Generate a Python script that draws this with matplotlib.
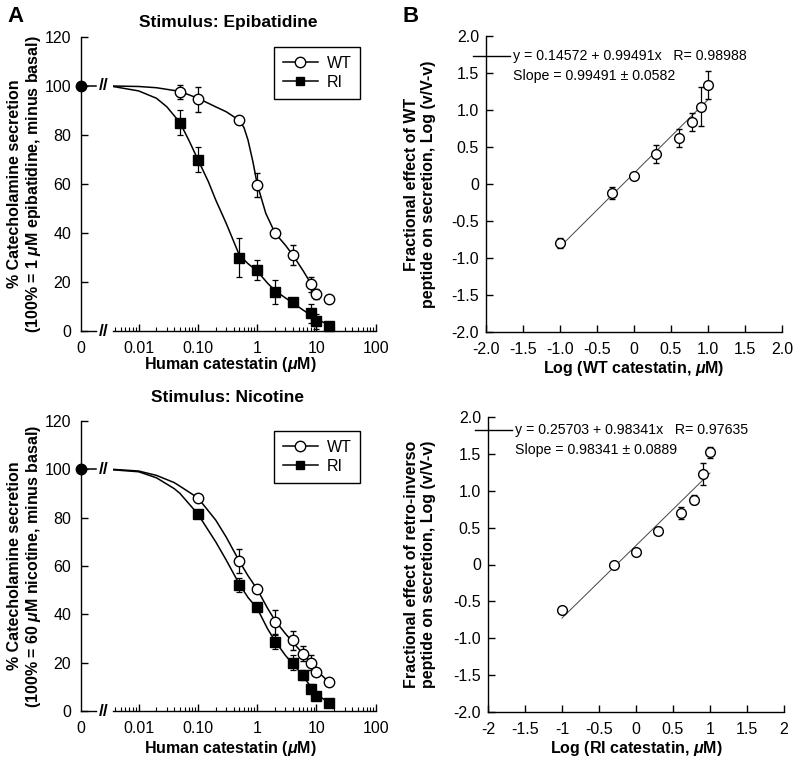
import matplotlib

matplotlib.use("Agg")

import matplotlib.pyplot as plt
import numpy as np
from matplotlib.lines import Line2D
from matplotlib.ticker import FixedLocator, FixedFormatter, LogLocator, NullFormatter

plt.rcParams.update({
    "font.family": ["Liberation Sans", "DejaVu Sans"],
    "font.size": 11,
    "mathtext.fontset": "custom",
    "mathtext.rm": "Liberation Sans:bold",
    "mathtext.it": "Liberation Sans:bold:italic",
    "mathtext.bf": "Liberation Sans:bold",
    "axes.linewidth": 1.0,
    "xtick.direction": "in",
    "ytick.direction": "in",
})

W, H = 800, 761

# ---- Panel A data (% catecholamine secretion vs catestatin, uM) ----
ZERO_DOSE_VALUE = 100

EPI_CONC = [0.05, 0.1, 0.5, 1, 2, 4, 8, 10, 16]
EPI_WT = [97.5, 94.5, 86, 59.5, 40, 31, 19, 15, 13]
EPI_WT_ERR = [3, 5, 0, 5, 0, 4, 3, 2, 0]
EPI_RI = [85, 70, 30, 25, 16, 12, 7.2, 4, 2.2]
EPI_RI_ERR = [5, 5, 8, 4, 5, 0, 4, 3, 0]

# fitted curves
EPI_WT_CURVE_X = [0.0037, 0.01, 0.02, 0.05, 0.1, 0.2, 0.3, 0.5, 0.6, 0.7, 0.85, 1, 1.4, 2, 3, 4, 6, 8, 9.5]
EPI_WT_CURVE_Y = [100, 99.8, 99.3, 97.8, 95, 91.5, 89.5, 86, 83, 78, 69, 60, 48, 40, 35, 31, 24.5, 19.5, 15.5]
EPI_RI_CURVE_X = [0.0037, 0.01, 0.02, 0.03, 0.05, 0.07, 0.1, 0.15, 0.2, 0.3, 0.5, 0.7, 1, 1.5, 2, 3, 4, 6, 8, 10, 16]
EPI_RI_CURVE_Y = [99.8, 98, 95, 91.5, 85, 78, 70, 61, 53.5, 44, 31, 27.5, 24.5, 19.5, 16.5, 13.5, 11.5, 8.5, 6.5, 5, 2.5]

NIC_CONC = [0.1, 0.5, 1, 2, 4, 6, 8, 10, 16]
NIC_WT = [88, 62, 50.4, 37, 29.2, 23.7, 20, 16.2, 12]
NIC_WT_ERR = [0, 5, 0, 5, 4, 3, 3, 0, 0]
NIC_RI = [81.5, 52.2, 42.9, 28.5, 20, 14.8, 9.3, 6.4, 3.4]
NIC_RI_ERR = [1.5, 3, 1, 3, 3, 2, 2, 1, 0]

NIC_WT_CURVE_X = [0.0037, 0.01, 0.02, 0.04, 0.05, 0.1, 0.2, 0.3, 0.5, 0.7, 1, 1.5, 2, 3, 4, 6, 8, 10, 16]
NIC_WT_CURVE_Y = [100, 99.3, 97.5, 94.5, 93, 88.2, 79, 72, 62, 56, 50.4, 42.5, 37.5, 32, 28.5, 23.5, 20, 17, 12]
NIC_RI_CURVE_X = [0.0037, 0.01, 0.02, 0.04, 0.05, 0.1, 0.2, 0.3, 0.5, 0.7, 1, 1.5, 2, 3, 4, 6, 8, 10, 16]
NIC_RI_CURVE_Y = [99.8, 99, 96.5, 92, 90, 81.5, 70, 62.5, 52.5, 47, 42.5, 34, 29, 23, 19.5, 14.5, 10, 7, 3.5]

# ---- Panel B data (Hill-type plots, log v/(V-v) vs log conc) ----
B_CONC = [0.1, 0.5, 1, 2, 4, 6, 8, 10]
B_WT = [-0.80, -0.126, 0.112, 0.405, 0.626, 0.833, 1.045, 1.338]
B_WT_ERR = [0.07, 0.08, 0.0, 0.12, 0.12, 0.12, 0.26, 0.19]
B_WT_FIT_X = [-1.0, 1.0]
B_WT_FIT_Y = [-0.849, 1.140]
B_WT_EQ = "y = 0.14572 + 0.99491x   R= 0.98988"
B_WT_SLOPE = "Slope = 0.99491 \u00b1 0.0582"

B_RI = [-0.62, -0.01, 0.164, 0.458, 0.698, 0.879, 1.227, 1.52]
B_RI_ERR = [0.03, 0.03, 0.03, 0.05, 0.08, 0.06, 0.15, 0.08]
B_RI_FIT_X = [-1.0, 1.0]
B_RI_FIT_Y = [-0.726, 1.240]
B_RI_EQ = "y = 0.25703 + 0.98341x   R= 0.97635"
B_RI_SLOPE = "Slope = 0.98341 \u00b1 0.0889"

A_YTICKS = [0, 20, 40, 60, 80, 100, 120]
A_XTICKS = [0.01, 0.1, 1, 10, 100]
A_XTICKLABELS = ["0.01", "0.10", "1", "10", "100"]
B_TICKS = [-2, -1.5, -1, -0.5, 0, 0.5, 1, 1.5, 2]
B_YTICKLABELS = ["-2.0", "-1.5", "-1.0", "-0.5", "0", "0.5", "1.0", "1.5", "2.0"]
B_XTICKLABELS_WT = B_YTICKLABELS
B_XTICKLABELS_RI = ["-2", "-1.5", "-1", "-0.5", "0", "0.5", "1", "1.5", "2"]


def px_axes(fig, left, top, right, bottom, **kw):
    return fig.add_axes([left / W, 1 - bottom / H, (right - left) / W, (bottom - top) / H], **kw)


def ftext(fig, x, y, s, **kw):
    return fig.text(x / W, 1 - y / H, s, **kw)


def dose_panel(fig, top, bottom, title, title_y, ylabel, xlabel_y, data, legend_top):
    conc, wt, wt_err, ri, ri_err, wt_cx, wt_cy, ri_cx, ri_cy = data

    ax0 = px_axes(fig, 81, top, 96, bottom)
    ax1 = px_axes(fig, 113, top, 375.7, bottom, sharey=ax0)

    for ax in (ax0, ax1):
        ax.spines["top"].set_visible(False)
        ax.spines["right"].set_visible(False)
        ax.set_facecolor("none")

    ax0.set_xlim(0, 1)
    ax0.set_ylim(0, 120)
    ax0.yaxis.set_major_locator(FixedLocator(A_YTICKS))
    ax0.set_xticks([0])
    ax0.set_xticklabels(["0"])
    ax0.tick_params(axis="x", length=0, pad=7, labelsize=11.5)
    ax0.tick_params(axis="y", length=5, width=1, pad=7, labelsize=11.5)
    ax0.plot([0, 1], [ZERO_DOSE_VALUE, ZERO_DOSE_VALUE], color="black", lw=1.1, clip_on=False)
    ax0.plot([0], [ZERO_DOSE_VALUE], "o", color="black", ms=7.5, clip_on=False, zorder=6)

    ax1.spines["left"].set_visible(False)
    ax1.set_xscale("log")
    ax1.set_xlim(0.0037, 100)
    ax1.xaxis.set_major_locator(FixedLocator(A_XTICKS))
    ax1.xaxis.set_major_formatter(FixedFormatter(A_XTICKLABELS))
    ax1.xaxis.set_minor_locator(LogLocator(base=10, subs=range(2, 10), numticks=20))
    ax1.xaxis.set_minor_formatter(NullFormatter())
    ax1.tick_params(axis="y", left=False, labelleft=False)
    ax1.tick_params(axis="x", which="major", length=5, width=1, pad=7, labelsize=11.5)
    ax1.tick_params(axis="x", which="minor", length=3, width=0.8)

    ax1.plot(wt_cx, wt_cy, color="black", lw=1.1, zorder=2)
    ax1.plot(ri_cx, ri_cy, color="black", lw=1.1, zorder=2)
    ax1.errorbar(conc, ri, yerr=ri_err, fmt="s", ms=6.5, mfc="black", mec="black",
                 ecolor="black", elinewidth=0.9, capsize=2.5, capthick=0.9, zorder=4, clip_on=False)
    ax1.errorbar(conc, wt, yerr=wt_err, fmt="o", ms=7.5, mfc="white", mec="black", mew=1,
                 ecolor="black", elinewidth=0.9, capsize=2.5, capthick=0.9, zorder=5, clip_on=False)

    # axis breaks
    for yy in (bottom, bottom - (bottom - top) * 100 / 120):
        ftext(fig, 103.5, yy, "//", fontsize=12.5, fontweight="bold", ha="center", va="center")

    handles = [
        Line2D([], [], color="black", lw=1.1, marker="o", ms=7.5, mfc="white", mec="black"),
        Line2D([], [], color="black", lw=1.1, marker="s", ms=6, mfc="black", mec="black"),
    ]
    leg = ax1.legend(handles, ["WT", "RI"], loc="upper left",
                     bbox_to_anchor=(274 / W, 1 - legend_top / H), bbox_transform=fig.transFigure,
                     fancybox=False, framealpha=1, edgecolor="black", fontsize=11.5,
                     handlelength=2.2, handletextpad=0.55, borderpad=0.55, labelspacing=0.25,
                     borderaxespad=0)
    leg.get_frame().set_linewidth(1.0)

    mid = (top + bottom) / 2
    ftext(fig, 228, title_y, title, fontsize=12.5, fontweight="bold", ha="center", va="center")
    ftext(fig, 25, mid, ylabel, fontsize=11.5, fontweight="bold", rotation=90,
          ha="center", va="center", multialignment="center", linespacing=1.15)
    ftext(fig, 230, xlabel_y, r"Human catestatin ($\mu$M)", fontsize=11.5,
          fontweight="bold", ha="center", va="center")


def hill_panel(fig, left, top, right, bottom, data, eq_px, xlabels, ylabel, xlabel):
    conc, vals, errs, fit_x, fit_y, eq, slope = data
    ax = px_axes(fig, left, top, right, bottom)
    ax.spines["top"].set_visible(False)
    ax.spines["right"].set_visible(False)
    ax.set_xlim(-2, 2)
    ax.set_ylim(-2, 2)
    ax.xaxis.set_major_locator(FixedLocator(B_TICKS))
    ax.xaxis.set_major_formatter(FixedFormatter(xlabels))
    ax.yaxis.set_major_locator(FixedLocator(B_TICKS))
    ax.yaxis.set_major_formatter(FixedFormatter(B_YTICKLABELS))
    ax.tick_params(axis="both", length=5, width=1, labelsize=11.5)
    ax.tick_params(axis="y", pad=5)
    ax.tick_params(axis="x", pad=7)

    ax.plot(fit_x, fit_y, color="#444444", lw=0.7, zorder=2)
    ax.errorbar(np.log10(conc), vals, yerr=errs, fmt="o", ms=7, mfc="white", mec="black",
                mew=1, ecolor="black", elinewidth=0.9, capsize=2.5, capthick=0.9, zorder=4)

    height = bottom - top
    eq_y = (bottom - eq_px) / height
    ax.plot([-13 / 296, 24 / 296], [eq_y, eq_y], color="black", lw=1.0, transform=ax.transAxes,
            clip_on=False)
    ax.text(0.092, eq_y, eq, transform=ax.transAxes, fontsize=10.2, va="center", ha="left")
    ax.text(0.092, eq_y - 20 / height, slope, transform=ax.transAxes, fontsize=10.2,
            va="center", ha="left")

    mid = (top + bottom) / 2
    ftext(fig, 420, mid, ylabel, fontsize=11.5, fontweight="bold", rotation=90,
          ha="center", va="center", multialignment="center", linespacing=1.15)
    ftext(fig, (left + right) / 2, bottom + 36, xlabel, fontsize=11.5, fontweight="bold",
          ha="center", va="center")


fig = plt.figure(figsize=(W / 100, H / 100), dpi=100)

dose_panel(fig, 37, 331, "Stimulus: Epibatidine", 22,
           "% Catecholamine secretion\n(100% = 1 $\\mu$M epibatidine, minus basal)", 365,
           (EPI_CONC, EPI_WT, EPI_WT_ERR, EPI_RI, EPI_RI_ERR,
            EPI_WT_CURVE_X, EPI_WT_CURVE_Y, EPI_RI_CURVE_X, EPI_RI_CURVE_Y), 47)
dose_panel(fig, 421, 711, "Stimulus: Nicotine", 398,
           "% Catecholamine secretion\n(100% = 60 $\\mu$M nicotine, minus basal)", 748,
           (NIC_CONC, NIC_WT, NIC_WT_ERR, NIC_RI, NIC_RI_ERR,
            NIC_WT_CURVE_X, NIC_WT_CURVE_Y, NIC_RI_CURVE_X, NIC_RI_CURVE_Y), 431)

hill_panel(fig, 486, 36, 782, 332,
           (B_CONC, B_WT, B_WT_ERR, B_WT_FIT_X, B_WT_FIT_Y, B_WT_EQ, B_WT_SLOPE), 56,
           B_XTICKLABELS_WT, "Fractional effect of WT\npeptide on secretion, Log (v/V-v)",
           r"Log (WT catestatin, $\mu$M)")
hill_panel(fig, 488, 417, 784, 712,
           (B_CONC, B_RI, B_RI_ERR, B_RI_FIT_X, B_RI_FIT_Y, B_RI_EQ, B_RI_SLOPE), 430,
           B_XTICKLABELS_RI, "Fractional effect of retro-inverso\npeptide on secretion, Log (v/V-v)",
           r"Log (RI catestatin, $\mu$M)")

ftext(fig, 16, 17, "A", fontsize=16, fontweight="bold", ha="center", va="center")
ftext(fig, 411, 17, "B", fontsize=16, fontweight="bold", ha="center", va="center")

fig.savefig("out.png", dpi=100)
